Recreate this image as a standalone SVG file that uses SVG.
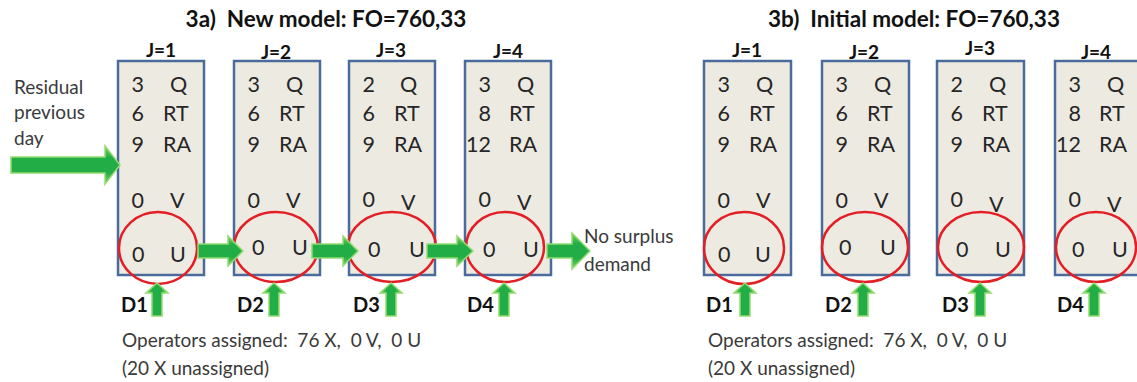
<svg xmlns="http://www.w3.org/2000/svg" width="1137" height="382" viewBox="0 0 1137 382">
  <defs>
    <linearGradient id="gh" x1="0" y1="0" x2="0" y2="1">
      <stop offset="0" stop-color="#7dd460"/>
      <stop offset="0.3" stop-color="#22ad46"/>
      <stop offset="0.7" stop-color="#22ad46"/>
      <stop offset="1" stop-color="#7dd460"/>
    </linearGradient>
    <linearGradient id="gv" x1="0" y1="0" x2="1" y2="0">
      <stop offset="0" stop-color="#7dd460"/>
      <stop offset="0.3" stop-color="#22ad46"/>
      <stop offset="0.7" stop-color="#22ad46"/>
      <stop offset="1" stop-color="#7dd460"/>
    </linearGradient>
  </defs>
  <style>
    text{white-space:pre}
    .box{fill:#edeae2;stroke:#4a6b9b;stroke-width:2.5}
    .t{font-family:Lato,"Open Sans",sans-serif;font-size:21.5px;fill:#262626}
    .n{text-anchor:end}
    .hd{font-family:Lato,"Open Sans",sans-serif;font-weight:bold;font-size:20px;fill:#111}
    .ttl{font-size:22.5px;text-anchor:middle}
    .j{text-anchor:middle;font-size:19px}
    .ring{fill:none;stroke:#e31e24;stroke-width:2.5}
    .ah{fill:url(#gh);stroke:#92dc70;stroke-width:1.5}
    .av{fill:url(#gv);stroke:#92dc70;stroke-width:1.5}
    .note{font-family:Lato,"Open Sans",sans-serif;font-size:19px;fill:#3a3a3a}
  </style>
  <rect width="1137" height="382" fill="#ffffff"/>

  <!-- headings -->
  <text class="hd ttl" x="326" y="27">3a)  New model: FO=760,33</text>
  <text class="hd ttl" x="914" y="27">3b)  Initial model: FO=760,33</text>

  <!-- side notes -->
  <text class="note" x="14" y="94">Residual</text>
  <text class="note" x="14" y="119">previous</text>
  <text class="note" x="14" y="145">day</text>
  <text class="note" x="584" y="243">No surplus</text>
  <text class="note" x="584" y="271">demand</text>
  <text class="note" x="122" y="347">Operators assigned:  76 X,  0 V,  0 U</text>
  <text class="note" x="122" y="375">(20 X unassigned)</text>
  <text class="note" x="708" y="347">Operators assigned:  76 X,  0 V,  0 U</text>
  <text class="note" x="708" y="375">(20 X unassigned)</text>

  <!-- 3a: new model -->
  <g id="a-j1">
    <text class="hd j" x="161" y="57">J=1</text>
    <rect class="box" x="118" y="61" width="86" height="214"/>
    <text class="t n" x="144" y="92">3</text><text class="t" x="170" y="92">Q</text>
    <text class="t n" x="144" y="121">6</text><text class="t" x="163" y="121">RT</text>
    <text class="t n" x="144" y="152">9</text><text class="t" x="163" y="152">RA</text>
    <text class="t n" x="144" y="208">0</text><text class="t" x="170" y="208">V</text>
    <text class="t" x="132" y="262">0</text><text class="t" x="170" y="262">U</text>
    <ellipse class="ring" cx="158" cy="248" rx="39" ry="36"/>
    <text class="hd" x="121" y="312">D1</text>
  </g>
  <g id="a-j2">
    <text class="hd j" x="276" y="59">J=2</text>
    <rect class="box" x="234" y="61" width="86" height="214"/>
    <text class="t n" x="260" y="92">3</text><text class="t" x="286" y="92">Q</text>
    <text class="t n" x="260" y="121">6</text><text class="t" x="279" y="121">RT</text>
    <text class="t n" x="260" y="152">9</text><text class="t" x="279" y="152">RA</text>
    <text class="t n" x="260" y="208">0</text><text class="t" x="286" y="208">V</text>
    <text class="t" x="252" y="255">0</text><text class="t" x="292" y="255">U</text>
    <ellipse class="ring" cx="276" cy="247" rx="42" ry="35"/>
    <text class="hd" x="237" y="312">D2</text>
  </g>
  <g id="a-j3">
    <text class="hd j" x="391" y="57">J=3</text>
    <rect class="box" x="349" y="61" width="86" height="214"/>
    <text class="t n" x="375" y="92">2</text><text class="t" x="400" y="92">Q</text>
    <text class="t n" x="375" y="121">6</text><text class="t" x="394" y="121">RT</text>
    <text class="t n" x="375" y="152">9</text><text class="t" x="394" y="152">RA</text>
    <text class="t n" x="375" y="207">0</text><text class="t" x="401" y="210">V</text>
    <text class="t" x="368" y="257">0</text><text class="t" x="409" y="257">U</text>
    <ellipse class="ring" cx="392" cy="247" rx="44" ry="35"/>
    <text class="hd" x="353" y="312">D3</text>
  </g>
  <g id="a-j4">
    <text class="hd j" x="508" y="58">J=4</text>
    <rect class="box" x="465" y="61" width="86" height="214"/>
    <text class="t n" x="491" y="92">3</text><text class="t" x="517" y="92">Q</text>
    <text class="t n" x="491" y="121">8</text><text class="t" x="509" y="121">RT</text>
    <text class="t n" x="491" y="152">12</text><text class="t" x="509" y="152">RA</text>
    <text class="t n" x="491" y="207">0</text><text class="t" x="517" y="210">V</text>
    <text class="t" x="483" y="257">0</text><text class="t" x="523" y="257">U</text>
    <ellipse class="ring" cx="505" cy="247" rx="39" ry="35"/>
    <text class="hd" x="467" y="312">D4</text>
  </g>

  <!-- 3b: initial model -->
  <g id="b-j1">
    <text class="hd j" x="747" y="57">J=1</text>
    <rect class="box" x="704" y="61" width="87" height="214"/>
    <text class="t n" x="730" y="92">3</text><text class="t" x="756" y="92">Q</text>
    <text class="t n" x="730" y="121">6</text><text class="t" x="749" y="121">RT</text>
    <text class="t n" x="730" y="152">9</text><text class="t" x="749" y="152">RA</text>
    <text class="t n" x="730" y="208">0</text><text class="t" x="756" y="208">V</text>
    <text class="t" x="718" y="262">0</text><text class="t" x="755" y="262">U</text>
    <ellipse class="ring" cx="744" cy="248" rx="40" ry="36"/>
    <text class="hd" x="706" y="312">D1</text>
  </g>
  <g id="b-j2">
    <text class="hd j" x="864" y="59">J=2</text>
    <rect class="box" x="822" y="61" width="87" height="214"/>
    <text class="t n" x="848" y="92">3</text><text class="t" x="874" y="92">Q</text>
    <text class="t n" x="848" y="121">6</text><text class="t" x="867" y="121">RT</text>
    <text class="t n" x="848" y="152">9</text><text class="t" x="867" y="152">RA</text>
    <text class="t n" x="848" y="208">0</text><text class="t" x="874" y="208">V</text>
    <text class="t" x="839" y="255">0</text><text class="t" x="880" y="255">U</text>
    <ellipse class="ring" cx="865" cy="247" rx="43" ry="35"/>
    <text class="hd" x="825" y="312">D2</text>
  </g>
  <g id="b-j3">
    <text class="hd j" x="980" y="55">J=3</text>
    <rect class="box" x="937" y="61" width="87" height="214"/>
    <text class="t n" x="963" y="92">2</text><text class="t" x="989" y="92">Q</text>
    <text class="t n" x="963" y="121">6</text><text class="t" x="982" y="121">RT</text>
    <text class="t n" x="963" y="152">9</text><text class="t" x="982" y="152">RA</text>
    <text class="t n" x="963" y="207">0</text><text class="t" x="989" y="212">V</text>
    <text class="t" x="956" y="257">0</text><text class="t" x="995" y="257">U</text>
    <ellipse class="ring" cx="981" cy="247" rx="43" ry="35"/>
    <text class="hd" x="942" y="312">D3</text>
  </g>
  <g id="b-j4">
    <text class="hd j" x="1096" y="59">J=4</text>
    <rect class="box" x="1055" y="61" width="87" height="214"/>
    <text class="t n" x="1081" y="92">3</text><text class="t" x="1107" y="92">Q</text>
    <text class="t n" x="1081" y="121">8</text><text class="t" x="1099" y="121">RT</text>
    <text class="t n" x="1081" y="152">12</text><text class="t" x="1099" y="152">RA</text>
    <text class="t n" x="1081" y="207">0</text><text class="t" x="1107" y="212">V</text>
    <text class="t" x="1072" y="257">0</text><text class="t" x="1112" y="257">U</text>
    <ellipse class="ring" cx="1096" cy="247" rx="40" ry="35"/>
    <text class="hd" x="1057" y="312">D4</text>
  </g>

  <!-- connectors: flow arrows -->
  <g id="connectors">
    <path class="ah" d="M11,157 H105 V146 L120,165 L105,184 V173 H11 Z"/>
    <path class="ah" d="M198,244 H228 V236 L243,251 L228,266 V258 H198 Z"/>
    <path class="ah" d="M312,244 H343 V236 L358,251 L343,266 V258 H312 Z"/>
    <path class="ah" d="M427,244 H457 V236 L473,251 L457,266 V258 H427 Z"/>
    <path class="ah" d="M547,244 H572 V233 L590,251 L572,269 V258 H547 Z"/>
    <path class="av" d="M152,316 V293 H146 L157,283 L168,293 H162 V316 Z"/>
    <path class="av" d="M269,316 V293 H263 L274,283 L285,293 H279 V316 Z"/>
    <path class="av" d="M386,316 V293 H380 L391,283 L402,293 H396 V316 Z"/>
    <path class="av" d="M499,316 V293 H493 L504,283 L515,293 H509 V316 Z"/>
    <path class="av" d="M740,316 V293 H734 L745,283 L756,293 H750 V316 Z"/>
    <path class="av" d="M858,316 V293 H852 L863,283 L874,293 H868 V316 Z"/>
    <path class="av" d="M975,316 V293 H969 L980,283 L991,293 H985 V316 Z"/>
    <path class="av" d="M1089,316 V293 H1083 L1094,283 L1105,293 H1099 V316 Z"/>
  </g>
</svg>
